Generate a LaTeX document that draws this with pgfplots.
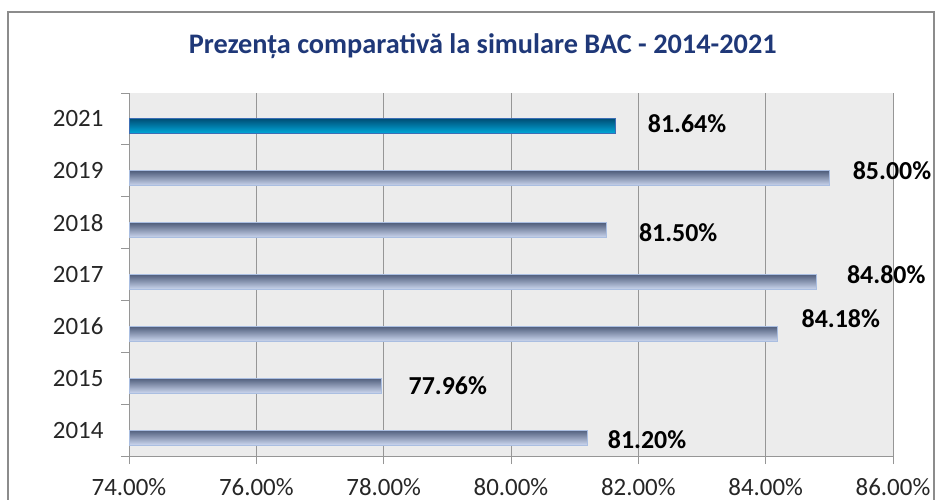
\documentclass[border=0pt]{standalone}
\usepackage{fontspec}
\setmainfont{Carlito}
\usepackage{pgfplots}
\pgfplotsset{compat=1.18}

\definecolor{titleblue}{RGB}{31,56,120}
\definecolor{plotbg}{RGB}{236,236,236}
\definecolor{gridgray}{RGB}{150,150,150}
\definecolor{framegray}{RGB}{140,140,140}
\definecolor{txt}{RGB}{38,38,38}
\definecolor{bartop}{RGB}{80,94,124}
\definecolor{barmid}{RGB}{140,155,185}
\definecolor{barbot}{RGB}{205,216,240}
\definecolor{baredge}{RGB}{170,190,225}
\definecolor{bluetop}{RGB}{0,80,120}
\definecolor{bluemid}{RGB}{0,130,185}
\definecolor{bluebot}{RGB}{0,172,222}
\definecolor{blueedge}{RGB}{60,110,180}

% label offsets (bp) per row, row 0 = 2014 ... row 6 = 2021
\def\dxarr{{20,27,24,30,32,23,32}}
\def\dyarr{{-2,0,15,7,-3,8,3}}

\pgfplotsset{
  graybar/.style={top color=bartop, middle color=barmid, bottom color=barbot,
                  draw=baredge, line width=1bp},
  bluebar/.style={top color=bluetop, middle color=bluemid, bottom color=bluebot,
                  draw=blueedge, line width=1bp},
}

\begin{document}
\begin{tikzpicture}
\begin{axis}[
    at={(129bp,44bp)}, anchor=south west,
    width=764bp, height=363bp, scale only axis,
    xbar, bar width=15bp, bar shift=-7.5bp,
    clip mode=individual,
    xmin=74, xmax=86, xtick={74,76,78,80,82,84,86},
    ymin=-0.5, ymax=6.5, ytick={0,...,6},
    yticklabels={2014,2015,2016,2017,2018,2019,2021},
    minor ytick={-0.5,0.5,1.5,2.5,3.5,4.5,5.5,6.5},
    xticklabel={\pgfmathprintnumber[fixed,fixed zerofill,precision=2]{\tick}\%},
    /pgf/number format/assume math mode=true,
    axis background/.style={fill=plotbg},
    axis x line*=bottom, axis y line*=left,
    axis line style={gridgray, line width=1bp},
    xmajorgrids, major grid style={gridgray, line width=1bp},
    tick align=outside, major tick length=8bp, minor tick length=8bp,
    tick style={gridgray, line width=1bp},
    major y tick style={draw=none},
    ticklabel style={font=\fontsize{25}{29}\selectfont, text=txt},
    xticklabel style={yshift=-11bp},
    yticklabel style={xshift=-14bp},
    title={Prezența comparativă la simulare BAC - 2014-2021},
    title style={font=\bfseries\fontsize{28.4}{33}\selectfont, text=titleblue,
                 at={(0.463,1)}, anchor=center, yshift=41bp},
    nodes near coords={\pgfmathprintnumber[fixed,fixed zerofill,precision=2]{\pgfplotspointmeta}\%},
    point meta=x,
    visualization depends on={rawy \as \row},
    nodes near coords style={anchor=west, inner sep=0pt,
        font=\bfseries\fontsize{26}{30}\selectfont, text=black,
        xshift={\dxarr[\row]*1bp}, yshift={\dyarr[\row]*1bp}},
]
\addplot[graybar] coordinates {(81.20,0)};
\addplot[graybar] coordinates {(77.96,1)};
\addplot[graybar] coordinates {(84.18,2)};
\addplot[graybar] coordinates {(84.80,3)};
\addplot[graybar] coordinates {(81.50,4)};
\addplot[graybar] coordinates {(85.00,5)};
\addplot[bluebar] coordinates {(81.64,6)};
\end{axis}
\draw[framegray, line width=1.2bp] (8bp,-20bp) rectangle (934bp,488bp);
\pgfresetboundingbox
\useasboundingbox (0,0) rectangle (937bp,500bp);
\end{tikzpicture}
\end{document}
